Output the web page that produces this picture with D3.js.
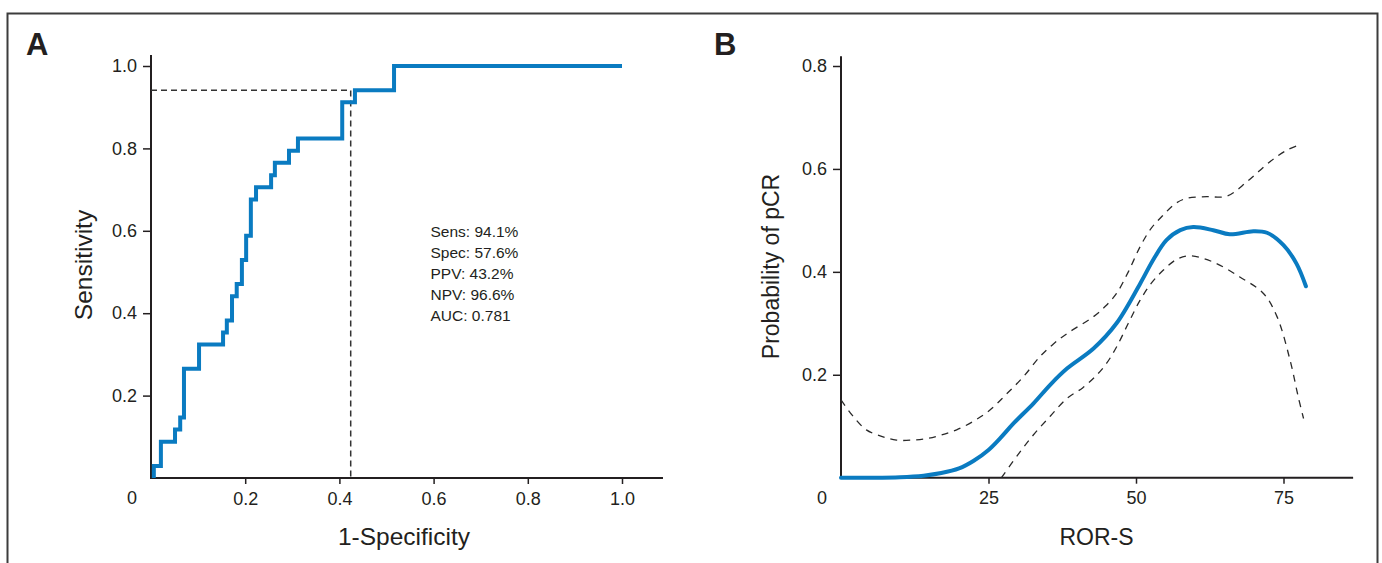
<!DOCTYPE html>
<html>
<head>
<meta charset="utf-8">
<script src="https://cdn.jsdelivr.net/npm/d3@7"></script>
<style>
  body { margin: 0; background: #fff; }
  svg { display: block; }
  text { font-family: "Liberation Sans", Arial, sans-serif; fill: #231f20; }
</style>
</head>
<body>
<div id="chart"></div>
<script>
// panel A: ROC curve vertices (1-specificity, sensitivity)
var rocFpr = [0.006, 0.006, 0.021, 0.051, 0.062, 0.070, 0.102, 0.153, 0.161, 0.172, 0.182, 0.193,
              0.202, 0.212, 0.223, 0.255, 0.263, 0.293, 0.312, 0.406, 0.433, 0.516, 1.0];
var rocTpr = [0, 0.029, 0.088, 0.118, 0.147, 0.265, 0.324, 0.353, 0.382, 0.441, 0.471, 0.529,
              0.588, 0.676, 0.706, 0.735, 0.765, 0.794, 0.824, 0.912, 0.941, 1.0, 1.0];
var cutSens = 0.941;
var cutSpec = 0.576;
var statLines = ["Sens: 94.1%", "Spec: 57.6%", "PPV: 43.2%", "NPV: 96.6%", "AUC: 0.781"];
var ticksA = [0.2, 0.4, 0.6, 0.8, 1.0];

// panel B: ROR-S vs probability of pCR, fit and 95% band
var fitRor = [0, 5, 10, 14, 17, 20, 22.5, 25, 27, 29.2, 32.6, 35.5, 38.3, 42.8, 46.7, 50.7, 53,
              55.2, 57.5, 59.7, 63.1, 65.9, 69.9, 72.2, 75, 77.2, 78.8];
var fitP = [0, 0, 0.001, 0.004, 0.009, 0.018, 0.033, 0.054, 0.077, 0.105, 0.144, 0.181, 0.212, 0.251,
            0.30, 0.377, 0.425, 0.462, 0.481, 0.487, 0.481, 0.473, 0.479, 0.476, 0.452, 0.416, 0.372];
var upRor = [0, 2, 4.3, 7, 9.4, 12, 14.5, 17, 19.6, 22.5, 25.2, 28, 30.9, 33.7, 36, 38.3, 42.8,
             44.8, 46.7, 48.7, 50.7, 52.6, 54.6, 56.6, 58.6, 62, 65.4, 68.8, 72.7, 75.5, 77.5];
var upP = [0.151, 0.12, 0.093, 0.08, 0.073, 0.073, 0.076, 0.083, 0.093, 0.11, 0.131, 0.162, 0.196,
           0.235, 0.26, 0.28, 0.313, 0.333, 0.358, 0.40, 0.449, 0.485, 0.51, 0.532, 0.543, 0.546,
           0.547, 0.575, 0.614, 0.636, 0.646];
var loRor = [27.2, 30, 32.6, 35.5, 38.3, 41, 43.3, 45, 46.7, 48.7, 50.7, 52.6, 54.6, 57, 59.2,
             63.1, 67.6, 71.6, 73.9, 76.1, 77.5, 78.4];
var loP = [0, 0.045, 0.083, 0.12, 0.154, 0.175, 0.199, 0.222, 0.254, 0.30, 0.345, 0.378, 0.403,
           0.425, 0.431, 0.419, 0.39, 0.358, 0.313, 0.229, 0.157, 0.115];
var ticksBx = [25, 50, 75];
var ticksBy = [0.2, 0.4, 0.6, 0.8];

var blue = "#0a7bc1";
var ink = "#231f20";

var svg = d3.select("#chart").append("svg")
    .attr("width", 1382)
    .attr("height", 563);

// outer frame (open at the bottom)
svg.append("path")
    .attr("d", "M 7.5 563 L 7.5 13.5 L 1377.5 13.5 L 1377.5 563")
    .attr("fill", "none")
    .attr("stroke", "#3c3c3c")
    .attr("stroke-width", 2);

function zip(a, b) { return a.map(function(v, i) { return [v, b[i]]; }); }

function drawAxes(g, x, y, xTicks, yTicks, xFmt, yFmt, xEnd, yEnd) {
    g.append("g")
        .attr("transform", "translate(0," + y(0) + ")")
        .call(d3.axisBottom(x).tickValues(xTicks).tickFormat(xFmt).tickSize(6).tickPadding(8))
        .call(function(a) { a.select(".domain").remove(); });
    g.append("g")
        .attr("transform", "translate(" + x(0) + ",0)")
        .call(d3.axisLeft(y).tickValues(yTicks).tickFormat(yFmt).tickSize(8).tickPadding(6))
        .call(function(a) { a.select(".domain").remove(); });
    g.selectAll(".tick line").attr("stroke", ink).attr("stroke-width", 1.5);
    g.selectAll(".tick text").style("font-size", "18px").attr("fill", ink)
        .style("font-family", "'Liberation Sans', Arial, sans-serif");
    // axis lines
    g.append("path")
        .attr("d", "M " + x(0) + " " + y(yEnd) + " L " + x(0) + " " + y(0) + " L " + x(xEnd) + " " + y(0))
        .attr("fill", "none")
        .attr("stroke", ink)
        .attr("stroke-width", 2);
    // shared "0" at the corner
    g.append("text")
        .attr("x", x(0) - 19)
        .attr("y", y(0) + 26)
        .attr("text-anchor", "middle")
        .style("font-size", "18px")
        .text("0");
}

// ---------- panel A ----------
var xA = d3.scaleLinear().domain([0, 1]).range([151, 622]);
var yA = d3.scaleLinear().domain([0, 1]).range([478, 66]);
var gA = svg.append("g");

gA.append("text")
    .attr("x", 26).attr("y", 55)
    .style("font-size", "31px").style("font-weight", "bold")
    .text("A");

drawAxes(gA, xA, yA, ticksA, ticksA, d3.format(".1f"), d3.format(".1f"), 1.087, 1.027);

gA.append("path")
    .attr("d", d3.line().x(function(d) { return xA(d[0]); }).y(function(d) { return yA(d[1]); })
        ([[0, cutSens], [1 - cutSpec, cutSens], [1 - cutSpec, 0]]))
    .attr("fill", "none")
    .attr("stroke", "#333")
    .attr("stroke-width", 1.5)
    .attr("stroke-dasharray", "6,4");

gA.append("path")
    .attr("d", d3.line().curve(d3.curveStepAfter)
        .x(function(d) { return xA(d[0]); }).y(function(d) { return yA(d[1]); })(zip(rocFpr, rocTpr)))
    .attr("fill", "none")
    .attr("stroke", blue)
    .attr("stroke-width", 4)
    .attr("stroke-linejoin", "miter");

gA.append("g").selectAll("text")
    .data(statLines)
    .join("text")
    .attr("x", 430.5)
    .attr("y", function(d, i) { return 237 + i * 21; })
    .style("font-size", "15.5px")
    .text(function(d) { return d; });

gA.append("text")
    .attr("x", 404).attr("y", 545)
    .attr("text-anchor", "middle")
    .style("font-size", "24.5px")
    .text("1-Specificity");

gA.append("text")
    .attr("transform", "translate(92,265) rotate(-90)")
    .attr("text-anchor", "middle")
    .style("font-size", "24.5px")
    .text("Sensitivity");

// ---------- panel B ----------
var xB = d3.scaleLinear().domain([0, 75]).range([841, 1283.5]);
var yB = d3.scaleLinear().domain([0, 0.8]).range([477.7, 66]);
var gB = svg.append("g");

gB.append("text")
    .attr("x", 714).attr("y", 55)
    .style("font-size", "31px").style("font-weight", "bold")
    .text("B");

drawAxes(gB, xB, yB, ticksBx, ticksBy, d3.format("d"), d3.format(".1f"), 86.8, 0.819);

var lineB = d3.line().curve(d3.curveCatmullRom.alpha(0.5))
    .x(function(d) { return xB(d[0]); }).y(function(d) { return yB(d[1]); });

gB.selectAll("path.band")
    .data([zip(upRor, upP), zip(loRor, loP)])
    .join("path")
    .attr("class", "band")
    .attr("d", lineB)
    .attr("fill", "none")
    .attr("stroke", "#2a2a2a")
    .attr("stroke-width", 1.3)
    .attr("stroke-dasharray", "7,6");

gB.append("path")
    .attr("d", lineB(zip(fitRor, fitP)))
    .attr("fill", "none")
    .attr("stroke", blue)
    .attr("stroke-width", 4)
    .attr("stroke-linecap", "round");

gB.append("text")
    .attr("x", 1096.5).attr("y", 545)
    .attr("text-anchor", "middle")
    .style("font-size", "23px")
    .text("ROR-S");

gB.append("text")
    .attr("transform", "translate(779,266.5) rotate(-90)")
    .attr("text-anchor", "middle")
    .style("font-size", "23px")
    .text("Probability of pCR");
</script>
</body>
</html>
